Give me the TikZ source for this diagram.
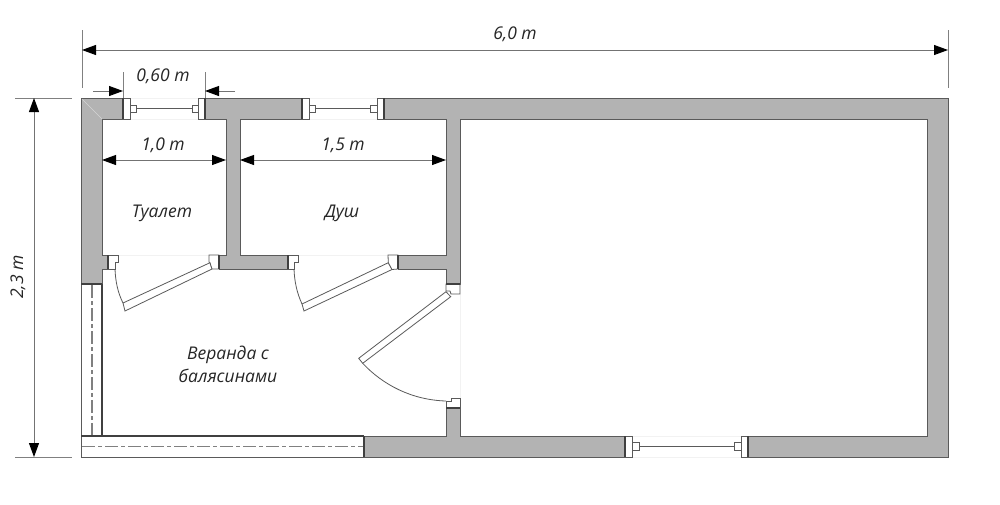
\documentclass[tikz,border=0pt]{standalone}
\usepackage{fontspec}
\setmainfont{Open Sans}
\usetikzlibrary{arrows.meta}
\definecolor{wallgrey}{HTML}{B3B3B3}
\definecolor{edgegrey}{HTML}{5A5A5A}
\tikzset{
  wall/.style={fill=wallgrey,draw=edgegrey,line width=0.8pt},
  frm/.style={fill=white,draw=edgegrey,line width=0.8pt},
  thin line/.style={draw=edgegrey,line width=0.8pt},
  faint/.style={draw=black!5,line width=0.7pt},
  seam/.style={draw=black!75,line width=1.1pt},
  axisline/.style={draw=black!50,line width=1.2pt,dash pattern=on 13pt off 3pt on 4pt off 3pt},
  ext/.style={draw=black!50,line width=0.9pt},
  dim/.style={draw=black!55,line width=0.9pt,{Triangle[length=14pt,width=10pt,black]}-{Triangle[length=14pt,width=10pt,black]}},
  dimr/.style={draw=black!55,line width=0.9pt,-{Triangle[length=14pt,width=10pt,black]}},
  lab/.style={font=\itshape\fontsize{17.5}{20}\selectfont,text=black!85,inner sep=0pt},
}
\begin{document}
\begin{tikzpicture}[x=1pt,y=-1pt]
\useasboundingbox (0,0) rectangle (1000,504);
\fill[white] (0,0) rectangle (1000,504);
% faint glazing outlines
\draw[faint] (130,98)--(198,98) (130,119)--(198,119) (309,98)--(377,98) (309,119)--(377,119)
  (118,255)--(209,255) (298,255)--(388,255) (460,294)--(460,398) (632,436)--(741,436) (632,457)--(741,457);
% walls
\draw[wall] (81,98)--(123,98)--(123,119)--(102,119)--(102,255)--(108,255)--(108,269)--(102,269)--(102,284)--(81,284)--cycle;
\draw[draw=wallgrey!55!white,line width=0.6pt] (82,99)--(102,119);
\draw[wall] (205,98)--(302,98)--(302,119)--(240,119)--(240,255)--(288,255)--(288,269)--(219,269)--(219,255)--(226,255)--(226,119)--(205,119)--cycle;
\draw[wall] (384,98)--(948,98)--(948,457)--(748,457)--(748,436)--(927,436)--(927,119)--(460,119)--(460,284)--(446,284)--(446,269)--(398,269)--(398,255)--(446,255)--(446,119)--(384,119)--cycle;
\draw[wall] (364,436)--(446,436)--(446,408)--(460,408)--(460,436)--(625,436)--(625,457)--(364,457)--cycle;
% top window 1
\draw[thin line] (136,108)--(192,108);
\draw[frm] (123,98) rectangle (130,119);
\draw[frm] (130,105) rectangle (136,112);
\draw[frm] (192,105) rectangle (198,112);
\draw[frm] (198,98) rectangle (205,119);
\draw[seam] (123,98)--(123,119) (205,98)--(205,119);
% top window 2
\draw[thin line] (315,108)--(370,108);
\draw[frm] (302,98) rectangle (309,119);
\draw[frm] (309,105) rectangle (315,112);
\draw[frm] (370,105) rectangle (377,112);
\draw[frm] (377,98) rectangle (384,119);
\draw[seam] (302,98)--(302,119) (384,98)--(384,119);
% bottom window
\draw[thin line] (639,446)--(734,446);
\draw[frm] (625,436) rectangle (632,457);
\draw[frm] (632,442) rectangle (639,450);
\draw[frm] (734,442) rectangle (741,450);
\draw[frm] (741,436) rectangle (748,457);
\draw[seam] (625,436)--(625,457) (748,436)--(748,457);
% door 1
\draw[frm] (108,255)--(118,255)--(118,262)--(115,262)--(115,269)--(108,269)--cycle;
\draw[seam] (108,255)--(108,269);
\draw[thin line] (115,269) .. controls (115.5,282) and (118,293) .. (123,303);
\draw[frm] (123,303)--(125,311)--(212,269)--(210,262.7)--cycle;
\draw[frm] (209,255)--(219,255)--(219,269)--(212,269)--(210,262.7)--(209,262)--cycle;
\draw[seam] (219,255)--(219,269);
% door 2
\draw[frm] (288,255)--(298,255)--(298,262)--(294,262)--(294,269)--(288,269)--cycle;
\draw[seam] (288,255)--(288,269);
\draw[thin line] (294,269) .. controls (294.5,282) and (297,293) .. (302,304);
\draw[frm] (302,304)--(304,311)--(392,269.5)--(388.3,262.7)--cycle;
\draw[frm] (388,255)--(398,255)--(398,269)--(392,269.5)--(388.3,262.7)--cycle;
\draw[seam] (398,255)--(398,269);
% door 3
\draw[frm] (446,284)--(460,284)--(460,294)--(451,294)--(450,291)--(446,291)--cycle;
\draw[seam] (446,284)--(460,284);
\draw[frm] (446,291.7)--(450.7,296.7)--(362.7,363.3)--(358.7,358.3)--cycle;
\draw[thin line] (362.7,363.3) .. controls (383,385) and (412,400) .. (446,401);
\draw[frm] (446,401)--(451,401)--(451,398)--(460,398)--(460,408)--(446,408)--cycle;
\draw[seam] (446,408)--(460,408);
% verandah railings
\draw[frm] (81,284) rectangle (102,436);
\draw[frm] (81,436) rectangle (364,457);
\draw[seam] (102,284)--(102,436) (81,436)--(364,436) (364,436)--(364,457) (81,284)--(102,284);
\draw[axisline] (92,285)--(92,435);
\draw[axisline] (82,446.5)--(363,446.5);
% dimensions
\coordinate (a1) at (82,30); \coordinate (a2) at (82,88);
\coordinate (b1) at (948,30); \coordinate (b2) at (948,88);
\draw[ext] (a1)--(a2); \draw[ext] (b1)--(b2);
\draw[dim] (82,50)--(948,50);
\coordinate (c1) at (15,98); \coordinate (c2) at (72,98);
\coordinate (d1) at (15,457); \coordinate (d2) at (72,457);
\draw[ext] (c1)--(c2); \draw[ext] (d1)--(d2);
\draw[dim] (34,98)--(34,457);
\coordinate (e1) at (123,72); \coordinate (e2) at (123,98);
\coordinate (f1) at (205,72); \coordinate (f2) at (205,98);
\draw[ext] (e1)--(e2); \draw[ext] (f1)--(f2);
\draw[dimr] (93,91)--(123,91);
\draw[dimr] (235,91)--(205,91);
\draw[dim] (102,160)--(226,160);
\draw[dim] (240,160)--(446,160);
% labels
\node[lab] (t60) at (515,34) {6,0 m};
\node[lab,rotate=90] (t23) at (18,277) {2,3 m};
\node[lab] (t06) at (163,76) {0,60 m};
\node[lab] (t10) at (163,145) {1,0 m};
\node[lab] (t15) at (343,145) {1,5 m};
\node[lab] (toilet) at (162,213) {Туалет};
\node[lab] (shower) at (342,213) {Душ};
\node[lab,align=center] (veranda) at (228,364) {Веранда с\\[3pt]балясинами};
\end{tikzpicture}
\end{document}
